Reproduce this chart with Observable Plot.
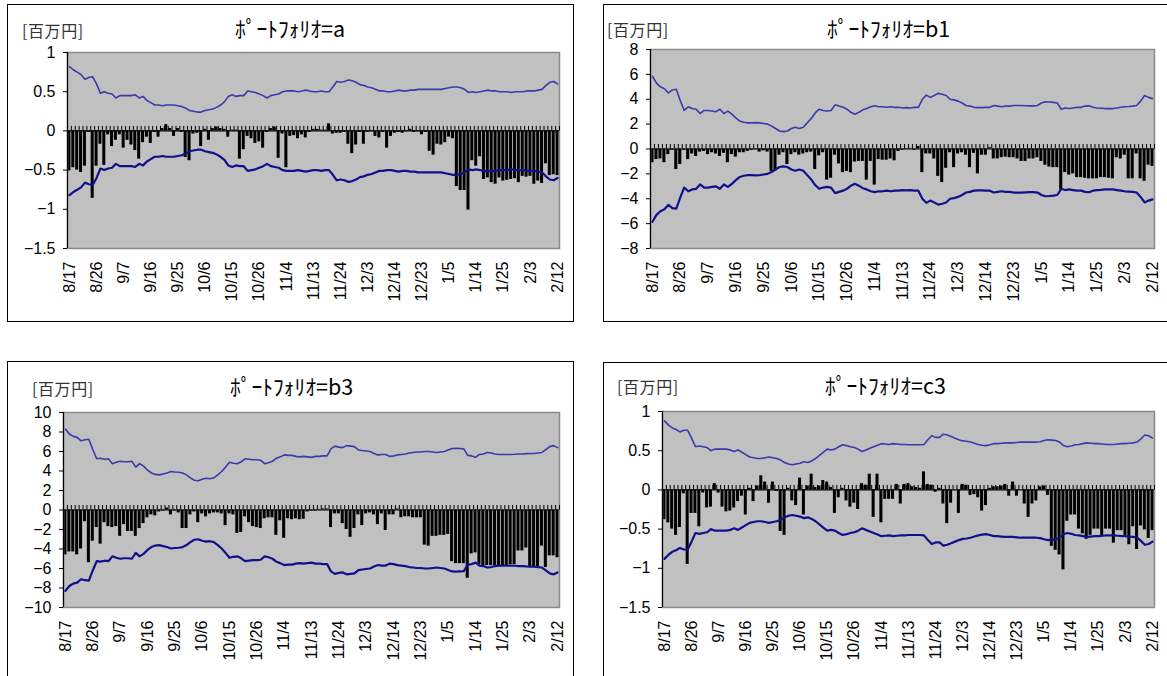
<!DOCTYPE html>
<html><head><meta charset="utf-8">
<script src="https://cdn.jsdelivr.net/npm/d3@7"></script>
<script src="https://cdn.jsdelivr.net/npm/@observablehq/plot@0.6"></script>
<style>
html,body{margin:0;padding:0;background:#fff;width:1167px;height:676px;overflow:hidden;position:relative}
.box{position:absolute;border:1px solid #000;box-sizing:border-box}
.unit{position:absolute;font-family:"Noto Sans CJK JP",sans-serif;font-size:16px;line-height:1;color:#333;white-space:nowrap;letter-spacing:0.6px}
.title{position:absolute;font-family:"Noto Sans CJK JP",sans-serif;font-size:21.5px;line-height:1;letter-spacing:0;color:#000;white-space:nowrap}
.chart{position:absolute}
.chart svg{overflow:visible}
</style></head><body>
<script>
const dateLabels = ["8/17","8/26","9/7","9/16","9/25","10/6","10/15","10/26","11/4","11/13","11/24","12/3","12/14","12/23","1/5","1/14","1/25","2/3","2/12"];
const unitLabel = "[百万円]";
const titlePrefix = "ﾎﾟｰﾄﾌｫﾘｵ=";

const barsA = [-0.51,-0.47,-0.50,-0.53,-0.45,-0.02,-0.86,-0.45,-0.17,-0.44,
-0.05,-0.20,-0.12,-0.05,-0.22,-0.12,-0.18,-0.25,-0.36,-0.15,
-0.08,-0.16,-0.02,-0.08,0.03,0.08,0.03,-0.07,0.03,-0.02,
-0.34,-0.38,-0.04,-0.03,-0.20,0.02,-0.12,0.03,0.05,0.03,
0.02,-0.08,0.01,0.01,-0.36,-0.24,-0.07,-0.10,-0.16,-0.14,
-0.22,-0.02,0.03,0.05,-0.35,-0.04,-0.47,-0.07,-0.06,-0.10,
-0.05,-0.09,-0.02,0.02,0.02,0.01,0.01,0.09,-0.04,-0.03,
-0.03,-0.02,-0.17,-0.29,-0.18,-0.02,-0.17,-0.02,-0.01,-0.07,
-0.09,-0.02,-0.22,-0.07,-0.03,-0.02,-0.03,-0.01,0.02,-0.02,
-0.01,-0.05,-0.02,-0.26,-0.31,-0.17,-0.18,-0.15,-0.08,-0.10,
-0.71,-0.76,-0.76,-1.01,-0.38,-0.45,-0.33,-0.62,-0.60,-0.66,
-0.68,-0.60,-0.64,-0.63,-0.62,-0.61,-0.66,-0.58,-0.59,-0.58,
-0.68,-0.64,-0.67,-0.42,-0.57,-0.56,-0.57];
const upperA = [0.82,0.78,0.75,0.72,0.66,0.68,0.69,0.60,0.48,0.50,
0.48,0.47,0.42,0.45,0.45,0.45,0.45,0.46,0.42,0.44,
0.39,0.36,0.33,0.33,0.32,0.33,0.33,0.33,0.32,0.31,
0.29,0.26,0.25,0.24,0.24,0.26,0.27,0.28,0.30,0.33,
0.37,0.44,0.46,0.44,0.45,0.45,0.51,0.50,0.49,0.47,
0.45,0.42,0.45,0.46,0.47,0.50,0.51,0.51,0.51,0.50,
0.51,0.52,0.51,0.50,0.50,0.51,0.50,0.50,0.56,0.63,
0.62,0.63,0.65,0.64,0.62,0.59,0.58,0.56,0.55,0.53,
0.51,0.51,0.50,0.50,0.51,0.52,0.51,0.51,0.52,0.52,
0.53,0.53,0.53,0.53,0.53,0.53,0.53,0.54,0.55,0.56,
0.56,0.55,0.53,0.49,0.50,0.49,0.50,0.51,0.52,0.51,
0.51,0.50,0.50,0.50,0.49,0.50,0.50,0.50,0.51,0.51,
0.51,0.52,0.53,0.58,0.62,0.63,0.60];
const lowerA = [-0.82,-0.78,-0.75,-0.72,-0.66,-0.68,-0.69,-0.60,-0.48,-0.50,
-0.48,-0.47,-0.42,-0.45,-0.45,-0.45,-0.45,-0.46,-0.42,-0.44,
-0.39,-0.36,-0.33,-0.33,-0.32,-0.33,-0.33,-0.33,-0.32,-0.31,
-0.29,-0.26,-0.25,-0.24,-0.24,-0.26,-0.27,-0.28,-0.30,-0.33,
-0.37,-0.44,-0.46,-0.44,-0.45,-0.45,-0.51,-0.50,-0.49,-0.47,
-0.45,-0.42,-0.45,-0.46,-0.47,-0.50,-0.51,-0.51,-0.51,-0.50,
-0.51,-0.52,-0.51,-0.50,-0.50,-0.51,-0.50,-0.50,-0.56,-0.63,
-0.62,-0.63,-0.65,-0.64,-0.62,-0.59,-0.58,-0.56,-0.55,-0.53,
-0.51,-0.51,-0.50,-0.50,-0.51,-0.52,-0.51,-0.51,-0.52,-0.52,
-0.53,-0.53,-0.53,-0.53,-0.53,-0.53,-0.53,-0.54,-0.55,-0.56,
-0.56,-0.55,-0.53,-0.49,-0.50,-0.49,-0.50,-0.51,-0.52,-0.51,
-0.51,-0.50,-0.50,-0.50,-0.49,-0.50,-0.50,-0.50,-0.51,-0.51,
-0.51,-0.52,-0.53,-0.58,-0.62,-0.63,-0.60];

const barsB1 = [-1.1,-0.85,-0.8,-1.1,-0.45,-0.1,-1.65,-1.25,-0.1,-0.85,
-0.4,-0.6,-0.25,-0.2,-0.45,-0.3,-0.4,-0.6,-0.35,-1.1,
-0.45,-0.65,-0.3,-0.3,-0.2,-0.1,-0.05,-0.25,-0.15,-0.25,
-1.8,-1.75,-0.5,-0.3,-1.25,-0.45,-0.3,-0.5,-0.4,-0.3,
-0.25,-1.65,-0.55,-0.3,-2.5,-2.35,-0.5,-1.2,-1.9,-1.8,
-1.9,-1.05,-1.0,-1.0,-2.5,-1.0,-2.9,-0.85,-0.9,-0.9,
-0.8,-0.95,-0.2,-0.1,-0.05,0.05,-0.1,0.2,-1.9,-0.4,
-0.4,-0.8,-2.2,-2.7,-1.55,-0.3,-1.5,-0.4,-0.3,-0.5,
-1.5,-0.35,-2.0,-0.5,-0.5,0.1,-0.8,-0.8,-0.7,-0.65,
-0.7,-0.7,-0.8,-1.0,-1.0,-0.8,-0.8,-0.7,-1.0,-1.3,
-1.45,-1.5,-1.5,-3.3,-1.9,-2.1,-2.0,-2.3,-2.3,-2.35,
-2.4,-2.4,-2.4,-2.3,-2.3,-2.35,-2.4,-0.7,-0.8,-0.5,
-2.4,-2.4,-0.4,-2.4,-2.6,-1.3,-1.4];
const upperB1 = [5.85,5.3,5.0,4.85,4.5,4.75,4.8,3.9,3.1,3.4,
3.25,3.2,2.85,3.1,3.1,3.05,3.0,3.2,2.85,3.05,
2.8,2.5,2.25,2.15,2.1,2.1,2.12,2.1,2.05,2.0,
1.85,1.65,1.45,1.4,1.45,1.65,1.75,1.65,1.75,2.1,
2.45,2.9,3.2,3.1,3.05,3.1,3.55,3.45,3.35,3.2,
2.95,2.8,2.95,3.15,3.25,3.4,3.47,3.4,3.4,3.35,
3.4,3.35,3.35,3.3,3.33,3.3,3.35,3.35,4.0,4.33,
4.15,4.3,4.47,4.4,4.3,4.0,3.95,3.85,3.7,3.5,
3.45,3.35,3.33,3.33,3.35,3.35,3.5,3.45,3.4,3.45,
3.45,3.5,3.5,3.5,3.48,3.47,3.47,3.5,3.7,3.8,
3.78,3.75,3.7,3.2,3.3,3.25,3.3,3.35,3.35,3.45,
3.47,3.35,3.3,3.28,3.25,3.25,3.25,3.3,3.35,3.4,
3.42,3.45,3.5,3.85,4.3,4.15,4.05];
const lowerB1 = [-5.85,-5.3,-5.0,-4.85,-4.5,-4.75,-4.8,-3.9,-3.1,-3.4,
-3.25,-3.2,-2.85,-3.1,-3.1,-3.05,-3.0,-3.2,-2.85,-3.05,
-2.8,-2.5,-2.25,-2.15,-2.1,-2.1,-2.12,-2.1,-2.05,-2.0,
-1.85,-1.65,-1.45,-1.4,-1.45,-1.65,-1.75,-1.65,-1.75,-2.1,
-2.45,-2.9,-3.2,-3.1,-3.05,-3.1,-3.55,-3.45,-3.35,-3.2,
-2.95,-2.8,-2.95,-3.15,-3.25,-3.4,-3.47,-3.4,-3.4,-3.35,
-3.4,-3.35,-3.35,-3.3,-3.33,-3.3,-3.35,-3.35,-4.0,-4.33,
-4.15,-4.3,-4.47,-4.4,-4.3,-4.0,-3.95,-3.85,-3.7,-3.5,
-3.45,-3.35,-3.33,-3.33,-3.35,-3.35,-3.5,-3.45,-3.4,-3.45,
-3.45,-3.5,-3.5,-3.5,-3.48,-3.47,-3.47,-3.5,-3.7,-3.8,
-3.78,-3.75,-3.7,-3.2,-3.3,-3.25,-3.3,-3.35,-3.35,-3.45,
-3.47,-3.35,-3.3,-3.28,-3.25,-3.25,-3.25,-3.3,-3.35,-3.4,
-3.42,-3.45,-3.5,-3.85,-4.3,-4.15,-4.05];

const barsB3 = [-4.6,-4.3,-4.3,-4.6,-4.0,-1.2,-5.4,-3.2,-1.8,-3.5,
-1.3,-1.7,-1.8,-1.7,-2.7,-1.5,-2.2,-2.2,-2.7,-1.9,
-1.4,-0.8,-0.5,-0.6,-0.2,-0.1,0.2,-0.5,-0.1,-0.3,
-1.9,-1.9,-0.5,-0.2,-1.3,-0.4,-0.7,-0.4,-0.3,-0.3,
-0.4,-1.6,-0.4,-0.5,-2.4,-2.3,-0.7,-1.3,-1.7,-1.8,
-1.9,-0.9,-0.8,-0.8,-2.6,-1.1,-2.9,-0.9,-1.0,-0.9,
-1.0,-0.95,-0.2,-0.1,-0.1,-0.05,0.1,0.1,-1.8,-0.4,
-0.4,-1.4,-2.0,-2.8,-1.9,-0.5,-1.6,-0.4,-0.3,-0.5,
-1.5,-0.4,-2.1,-0.5,-0.5,0.1,-0.8,-0.7,-0.7,-0.8,
-0.8,-0.8,-3.6,-3.7,-2.7,-2.7,-2.6,-2.6,-2.5,-5.3,
-5.5,-5.5,-5.5,-7.0,-4.5,-4.4,-5.6,-5.7,-5.7,-5.7,
-5.7,-5.8,-5.7,-5.7,-5.6,-5.6,-4.2,-4.2,-3.9,-5.8,
-5.8,-5.8,-3.7,-5.9,-4.7,-4.7,-4.9];
const upperB3 = [8.3,7.8,7.55,7.45,7.1,7.2,7.25,6.2,5.25,5.3,
5.2,5.25,4.75,4.9,5.0,4.95,4.95,5.0,4.4,4.75,
4.5,4.1,3.8,3.65,3.6,3.7,3.8,3.95,3.9,3.87,
3.8,3.6,3.3,3.05,3.0,3.15,3.25,3.2,3.3,3.6,
3.95,4.4,4.9,4.8,4.75,4.95,5.25,5.2,5.15,5.15,
5.1,4.75,4.85,5.0,5.3,5.45,5.65,5.6,5.6,5.5,
5.45,5.5,5.45,5.4,5.5,5.5,5.55,5.55,6.3,6.55,
6.45,6.4,6.6,6.55,6.5,6.16,6.1,6.05,6.0,5.8,
5.65,5.7,5.7,5.5,5.55,5.65,5.7,5.75,5.85,5.9,
5.95,5.95,6.0,6.0,5.95,5.9,5.95,6.0,6.15,6.3,
6.33,6.3,6.27,5.6,5.55,5.4,5.7,5.75,5.9,5.85,
5.75,5.7,5.7,5.7,5.7,5.72,5.75,5.75,5.78,5.8,
5.8,5.85,5.9,6.2,6.5,6.6,6.4];
const lowerB3 = [-8.3,-7.8,-7.55,-7.45,-7.1,-7.2,-7.25,-6.2,-5.25,-5.3,
-5.2,-5.25,-4.75,-4.9,-5.0,-4.95,-4.95,-5.0,-4.4,-4.75,
-4.5,-4.1,-3.8,-3.65,-3.6,-3.7,-3.8,-3.95,-3.9,-3.87,
-3.8,-3.6,-3.3,-3.05,-3.0,-3.15,-3.25,-3.2,-3.3,-3.6,
-3.95,-4.4,-4.9,-4.8,-4.75,-4.95,-5.25,-5.2,-5.15,-5.15,
-5.1,-4.75,-4.85,-5.0,-5.3,-5.45,-5.65,-5.6,-5.6,-5.5,
-5.45,-5.5,-5.45,-5.4,-5.5,-5.5,-5.55,-5.55,-6.3,-6.55,
-6.45,-6.4,-6.6,-6.55,-6.5,-6.16,-6.1,-6.05,-6.0,-5.8,
-5.65,-5.7,-5.7,-5.5,-5.55,-5.65,-5.7,-5.75,-5.85,-5.9,
-5.95,-5.95,-6.0,-6.0,-5.95,-5.9,-5.95,-6.0,-6.15,-6.3,
-6.33,-6.3,-6.27,-5.6,-5.55,-5.4,-5.7,-5.75,-5.9,-5.85,
-5.75,-5.7,-5.7,-5.7,-5.7,-5.72,-5.75,-5.75,-5.78,-5.8,
-5.8,-5.85,-5.9,-6.2,-6.5,-6.6,-6.4];

const barsC3 = [-0.38,-0.42,-0.50,-0.58,-0.48,-0.05,-0.95,-0.30,-0.30,-0.47,
-0.04,-0.23,-0.22,0.08,-0.04,-0.22,-0.28,-0.27,-0.23,-0.15,
-0.08,-0.32,0.02,-0.15,0.05,0.18,0.10,-0.17,0.10,-0.02,
-0.53,-0.58,0.02,-0.14,-0.20,0.15,-0.32,0.05,0.20,0.03,
0.05,0.12,0.10,0.03,-0.30,-0.10,0.02,-0.14,-0.22,-0.17,
-0.25,0.08,0.06,0.20,-0.35,0.20,-0.42,-0.12,-0.12,-0.12,
0.07,-0.18,0.07,0.08,0.04,0.03,0.02,0.23,0.07,0.06,
-0.03,0.02,-0.18,-0.43,-0.17,0.0,-0.30,0.07,0.06,-0.07,
-0.06,-0.10,-0.27,-0.20,0.02,0.04,0.04,0.05,0.07,-0.08,
0.10,-0.08,0.0,-0.18,-0.35,-0.18,-0.14,0.04,0.05,-0.07,
-0.72,-0.77,-0.83,-1.02,-0.40,-0.32,-0.32,-0.50,-0.56,-0.63,
-0.58,-0.50,-0.50,-0.60,-0.50,-0.50,-0.68,-0.52,-0.52,-0.58,
-0.70,-0.47,-0.76,-0.46,-0.51,-0.62,-0.52];
const upperC3 = [0.88,0.83,0.79,0.77,0.74,0.76,0.76,0.66,0.55,0.56,
0.55,0.54,0.50,0.52,0.52,0.52,0.52,0.51,0.49,0.51,
0.48,0.45,0.42,0.41,0.40,0.40,0.41,0.42,0.41,0.40,
0.38,0.35,0.33,0.32,0.33,0.34,0.36,0.35,0.37,0.40,
0.44,0.48,0.52,0.51,0.52,0.55,0.575,0.565,0.55,0.54,
0.52,0.49,0.51,0.53,0.55,0.57,0.59,0.585,0.58,0.59,
0.585,0.58,0.58,0.575,0.575,0.575,0.575,0.58,0.64,0.69,
0.67,0.67,0.71,0.70,0.68,0.66,0.64,0.625,0.62,0.61,
0.595,0.58,0.57,0.565,0.575,0.59,0.59,0.595,0.60,0.60,
0.60,0.605,0.61,0.61,0.61,0.61,0.61,0.615,0.63,0.64,
0.635,0.63,0.61,0.565,0.55,0.56,0.575,0.58,0.59,0.60,
0.595,0.59,0.59,0.585,0.58,0.58,0.58,0.585,0.59,0.59,
0.595,0.60,0.61,0.65,0.70,0.69,0.66];
const lowerC3 = [-0.88,-0.83,-0.79,-0.77,-0.74,-0.76,-0.76,-0.66,-0.55,-0.56,
-0.55,-0.54,-0.50,-0.52,-0.52,-0.52,-0.52,-0.51,-0.49,-0.51,
-0.48,-0.45,-0.42,-0.41,-0.40,-0.40,-0.41,-0.42,-0.41,-0.40,
-0.38,-0.35,-0.33,-0.32,-0.33,-0.34,-0.36,-0.35,-0.37,-0.40,
-0.44,-0.48,-0.52,-0.51,-0.52,-0.55,-0.575,-0.565,-0.55,-0.54,
-0.52,-0.49,-0.51,-0.53,-0.55,-0.57,-0.59,-0.585,-0.58,-0.59,
-0.585,-0.58,-0.58,-0.575,-0.575,-0.575,-0.575,-0.58,-0.64,-0.69,
-0.67,-0.67,-0.71,-0.70,-0.68,-0.66,-0.64,-0.625,-0.62,-0.61,
-0.595,-0.58,-0.57,-0.565,-0.575,-0.59,-0.59,-0.595,-0.60,-0.60,
-0.60,-0.605,-0.61,-0.61,-0.61,-0.61,-0.61,-0.615,-0.63,-0.64,
-0.635,-0.63,-0.61,-0.565,-0.55,-0.56,-0.575,-0.58,-0.59,-0.60,
-0.595,-0.59,-0.59,-0.585,-0.58,-0.58,-0.58,-0.585,-0.59,-0.59,
-0.595,-0.60,-0.61,-0.65,-0.70,-0.69,-0.66];

const ticksSmall = [-1.5,-1,-0.5,0,0.5,1];
const ticksB1 = [-8,-6,-4,-2,0,2,4,6,8];
const ticksB3 = [-10,-8,-6,-4,-2,0,2,4,6,8,10];

const panels = [
  {name:"a",  box:[7,4,567,318],    svg:[8,5,564,315],   plot:[67,52,559,248],   y:[-1.5,1], ticks:ticksSmall, bars:barsA,  upper:upperA,  lower:lowerA,  unit:[22,22],  title:[235,17]},
  {name:"b1", box:[603,4,600,318],  svg:[604,5,563,315], plot:[650,49,1154,248], y:[-8,8],   ticks:ticksB1,    bars:barsB1, upper:upperB1, lower:lowerB1, unit:[607,21], title:[827,17]},
  {name:"b3", box:[7,361,567,400],  svg:[8,362,564,314], plot:[63,412,559,607],  y:[-10,10], ticks:ticksB3,   bars:barsB3, upper:upperB3, lower:lowerB3, unit:[32,380], title:[230,375]},
  {name:"c3", box:[603,362,600,400],svg:[604,363,563,313],plot:[662,411,1154,607],y:[-1.5,1], ticks:ticksSmall, bars:barsC3, upper:upperC3, lower:lowerC3, unit:[617,378], title:[825,374]}
];

const n = 127;
const labelIdx = d3.range(0, n, 7);
const fmt = d => (d < 0 ? "\u2212" : "") + String(Math.abs(d));

for (const p of panels) {
  const box = document.createElement("div");
  box.className = "box";
  Object.assign(box.style, {left: p.box[0]+"px", top: p.box[1]+"px", width: p.box[2]+"px", height: p.box[3]+"px"});
  document.body.appendChild(box);

  const [sx, sy, sw, sh] = p.svg;
  const [pl, pt, pr, pb] = p.plot;
  const plotH = pb - pt;
  const tickH = 4.5 * (p.y[1] - p.y[0]) / plotH;
  const data = p.bars.map((v, i) => ({i, v}));

  const chart = Plot.plot({
    width: sw, height: sh,
    marginLeft: pl - sx, marginTop: pt - sy, marginRight: sx + sw - pr, marginBottom: sy + sh - pb,
    style: {background: "transparent", fontFamily: "'Liberation Sans', Arial, sans-serif", fontSize: "16px", color: "#000"},
    x: {type: "linear", domain: [-0.5, n - 0.5]},
    y: {domain: p.y},
    marks: [
      Plot.frame({fill: "#c0c0c0", stroke: null}),
      Plot.rect(data, {x1: d => d.i - 0.39, x2: d => d.i + 0.39, y1: () => 0, y2: "v", fill: "#000"}),
      Plot.frame({stroke: "#8a8a8a", strokeWidth: 1.5}),
      Plot.ruleY([0], {stroke: "#000", strokeWidth: 1.2}),
      Plot.ruleX(d3.range(n + 1), {x: d => d - 0.5, y1: () => 0, y2: () => tickH, stroke: "#000", strokeWidth: 1}),
      Plot.ruleX([-0.5], {stroke: "#000", strokeWidth: 1.2}),
      Plot.lineY(p.upper, {x: (d, i) => i, y: d => d, stroke: "#3a3aaa", strokeWidth: 1.6}),
      Plot.lineY(p.lower, {x: (d, i) => i, y: d => d, stroke: "#10108c", strokeWidth: 2.2}),
      Plot.axisY({ticks: p.ticks, tickFormat: fmt, tickSize: 4, tickPadding: 8, fontSize: 16, stroke: "#000", fill: "#000", label: null}),
      Plot.axisX({ticks: labelIdx, tickFormat: d => dateLabels[d / 7], tickRotate: -90, tickSize: 0, tickPadding: 13, fontSize: 16, fill: "#000", label: null})
    ]
  });
  const wrap = document.createElement("div");
  wrap.className = "chart";
  Object.assign(wrap.style, {left: sx+"px", top: sy+"px", width: sw+"px", height: sh+"px"});
  wrap.appendChild(chart);
  document.body.appendChild(wrap);

  const u = document.createElement("div");
  u.className = "unit"; u.textContent = unitLabel;
  Object.assign(u.style, {left: p.unit[0]+"px", top: p.unit[1]+"px"});
  document.body.appendChild(u);

  const t = document.createElement("div");
  t.className = "title"; t.textContent = titlePrefix + p.name;
  Object.assign(t.style, {left: p.title[0]+"px", top: p.title[1]+"px"});
  document.body.appendChild(t);
}
</script>
</body></html>
